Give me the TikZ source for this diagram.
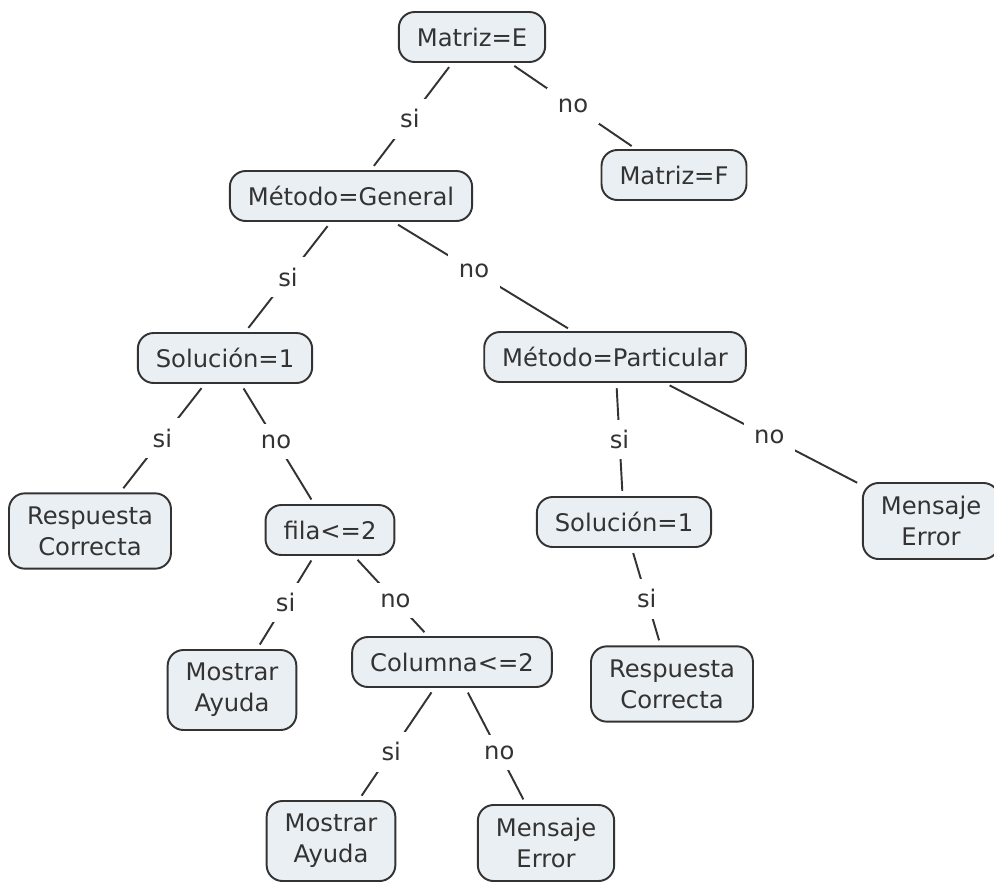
\documentclass[tikz,border=0pt]{standalone}
\usepackage{fontspec}
\setmainfont{DejaVu Sans}
\definecolor{boxfill}{HTML}{E9EFF3}
\definecolor{inkgray}{HTML}{333333}
\begin{document}
\begin{tikzpicture} [x=0.02cm, y=-0.02cm]

      \tikzstyle{box_style} = [rectangle, rounded corners=9pt, draw=inkgray, fill=boxfill, line width=1.1pt, text=inkgray, minimum height=1cm, inner xsep=0.36cm, inner ysep=7.5pt, align=center, font=\fontsize{13.8}{17.6}\selectfont]
        \tikzstyle{link_style} = [inkgray, line width=1.1pt, shorten <=3pt, shorten >=3pt]
            \tikzstyle{answer} = [fill=white, text=inkgray, inner sep=6pt, font=\fontsize{13.8}{17.6}\selectfont]

      \useasboundingbox (0,0) rectangle (994,886);

            \draw
              (472, 37) node[box_style] (0){Matriz=E}
              (674, 175) node[box_style] (1){Matriz=F}
              (351, 196) node[box_style] (2){Método=General}
              (225, 358) node[box_style] (3){Solución=1}
              (615, 357) node[box_style] (4){Método=Particular}
              (90, 531) node[box_style] (5){Respuesta\\Correcta}
              (330, 530) node[box_style] (6){fila<=2}
              (624, 522) node[box_style] (7){Solución=1}
              (931, 521) node[box_style] (8){Mensaje\\Error}
              (232, 690) node[box_style] (9){Mostrar\\Ayuda}
              (452, 662) node[box_style] (10){Columna<=2}
              (672, 684) node[box_style] (11){Respuesta\\Correcta}
              (331, 841) node[box_style] (12){Mostrar\\Ayuda}
              (546, 843) node[box_style] (13){Mensaje\\Error};

      \begin{scope}[-]
        \draw[link_style] (0) to node[answer, pos=0.52] {si} (2);
        \draw[link_style] (0) to node[answer, pos=0.5] {no} (1);
        \draw[link_style] (2) to node[answer, pos=0.5] {si} (3);
        \draw[link_style] (2) to node[answer, pos=0.45] {no} (4);
        \draw[link_style] (3) to node[answer, pos=0.5] {si} (5);
        \draw[link_style] (3) to node[answer, pos=0.48] {no} (6);
        \draw[link_style] (4) to node[answer, pos=0.5] {si} (7);
        \draw[link_style] (4) to node[answer, pos=0.53] {no} (8);
        \draw[link_style] (6) to node[answer, pos=0.5] {si} (9);
        \draw[link_style] (6) to node[answer, pos=0.56] {no} (10);
        \draw[link_style] (7) to node[answer, pos=0.52] {si} (11);
        \draw[link_style] (10) to node[answer, pos=0.57] {si} (12);
        \draw[link_style] (10) to node[answer, pos=0.56] {no} (13);
      \end{scope}
    \end{tikzpicture}
\end{document}
